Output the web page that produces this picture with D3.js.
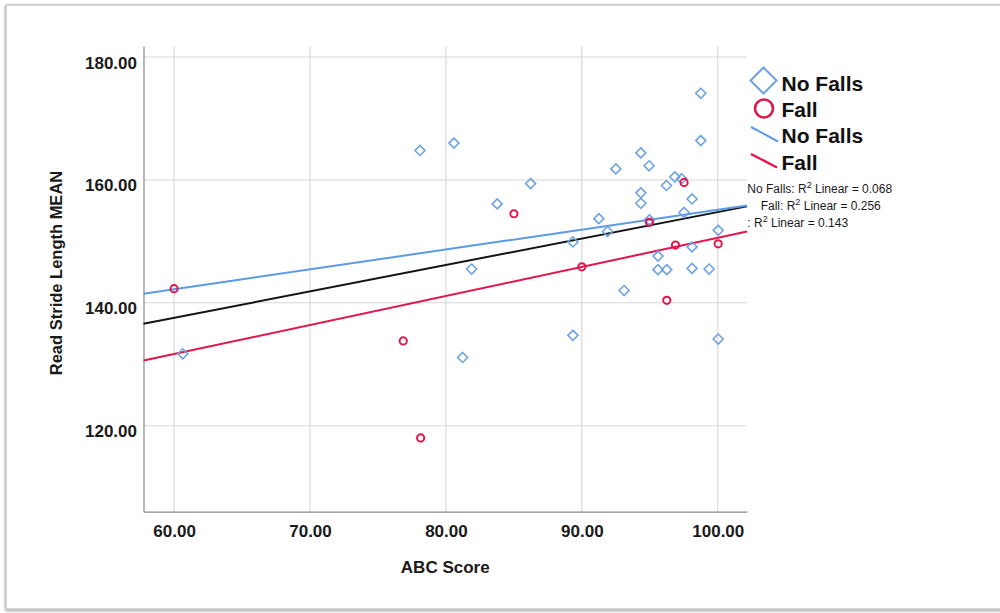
<!DOCTYPE html>
<html>
<head>
<meta charset="utf-8">
<script src="https://cdn.jsdelivr.net/npm/d3@7"></script>
<style>
  html, body { margin: 0; padding: 0; background: #ffffff; }
  svg { display: block; }
</style>
</head>
<body>
<svg id="chart" width="1000" height="613"></svg>
<script>
// ABC Score vs. Read Stride Length MEAN, grouped by fall status
const noFallsABC = [78.09, 80.59, 86.23, 83.77, 81.89, 89.34, 91.25, 91.89, 92.5, 94.34,
  94.95, 94.34, 94.34, 94.97, 96.23, 96.84, 97.35, 98.11, 97.52, 98.75,
  98.75, 100.03, 95.6, 95.6, 96.25, 98.11, 98.11, 99.36, 93.11, 89.34,
  81.23, 100.03, 60.64];
const noFallsStride = [164.8, 166.0, 159.4, 156.1, 145.5, 149.9, 153.7, 151.6, 161.8, 164.4,
  162.3, 157.9, 156.2, 153.5, 159.1, 160.5, 160.2, 156.9, 154.7, 174.1,
  166.4, 151.8, 147.6, 145.4, 145.4, 149.1, 145.6, 145.5, 142.0, 134.7,
  131.1, 134.1, 131.7];

const fallABC = [60.0, 76.86, 78.14, 85.0, 90.0, 94.97, 96.89, 97.52, 100.03, 96.25];
const fallStride = [142.3, 133.8, 118.0, 154.5, 145.85, 153.1, 149.4, 159.6, 149.6, 140.4];

// Linear fit lines: No Falls, Fall, Total
const fitGroups = ["No Falls", "Fall", "Total"];
const fitIntercept = [122.76, 103.28, 111.71];
const fitSlope = [0.324, 0.473, 0.4306];
const fitR2 = [0.068, 0.256, 0.143];

const xTicks = [60, 70, 80, 90, 100];
const yTicks = [120, 140, 160, 180];
const xDomain = [57.75, 102.15];
const yDomain = [106, 181.8];

const legendLabels = ["No Falls", "Fall", "No Falls", "Fall"];
const r2Prefixes = ["No Falls: ", "Fall: ", ": "];

const blueMark = "#6ea3e3";
const blueLine = "#5b9be6";
const redMark = "#e0174c";
const fitColors = [blueLine, "#e2164c", "#141414"];

const svg = d3.select("#chart");

// outer frame with a soft shadow
const defs = svg.append("defs");
const shadow = defs.append("filter").attr("id", "frameShadow")
  .attr("x", "-5%").attr("y", "-5%").attr("width", "110%").attr("height", "110%");
shadow.append("feGaussianBlur").attr("in", "SourceAlpha").attr("stdDeviation", 1.6).attr("result", "b");
shadow.append("feOffset").attr("in", "b").attr("dx", 0).attr("dy", 1.2).attr("result", "o");
shadow.append("feComponentTransfer").attr("in", "o").attr("result", "s")
  .append("feFuncA").attr("type", "linear").attr("slope", 0.45);
const merge = shadow.append("feMerge");
merge.append("feMergeNode").attr("in", "s");
merge.append("feMergeNode").attr("in", "SourceGraphic");

svg.append("rect")
  .attr("x", 6).attr("y", 5).attr("width", 1010).attr("height", 604)
  .attr("fill", "#ffffff").attr("stroke", "#c4c4c4").attr("stroke-width", 1.4)
  .attr("filter", "url(#frameShadow)");

const plot = { left: 143.5, right: 747, top: 46, bottom: 511.7 };

const x = d3.scaleLinear().domain(xDomain).range([plot.left, plot.right]);
const y = d3.scaleLinear().domain(yDomain).range([plot.bottom, plot.top]);

// gridlines
const grid = svg.append("g").attr("stroke", "#d6d6d6").attr("stroke-width", 1.1);
grid.selectAll("line.v").data(xTicks).join("line").attr("class", "v")
  .attr("x1", d => x(d)).attr("x2", d => x(d))
  .attr("y1", plot.top).attr("y2", plot.bottom);
grid.selectAll("line.h").data(yTicks).join("line").attr("class", "h")
  .attr("x1", plot.left).attr("x2", plot.right)
  .attr("y1", d => y(d)).attr("y2", d => y(d));

// axes
const fmt = d3.format(".2f");
const xAxis = svg.append("g").attr("transform", `translate(0,${plot.bottom})`)
  .call(d3.axisBottom(x).tickValues(xTicks).tickFormat(fmt).tickSize(0).tickSizeOuter(0));
xAxis.select(".domain").attr("stroke", "#8a8a8a").attr("stroke-width", 1.2);
xAxis.selectAll("text").attr("y", 25.6).attr("dy", 0)
  .attr("font-family", "Liberation Sans, Arial, sans-serif")
  .attr("font-size", 17).attr("font-weight", "bold").attr("fill", "#1a1a1a");

const yAxis = svg.append("g").attr("transform", `translate(${plot.left},0)`)
  .call(d3.axisLeft(y).tickValues(yTicks).tickFormat(fmt).tickSize(0).tickSizeOuter(0).tickPadding(6.5));
yAxis.select(".domain").attr("stroke", "#8a8a8a").attr("stroke-width", 1.2);
yAxis.selectAll("text").attr("dy", 11)
  .attr("font-family", "Liberation Sans, Arial, sans-serif")
  .attr("font-size", 17).attr("font-weight", "bold").attr("fill", "#1a1a1a");

// axis titles
svg.append("text")
  .attr("x", (plot.left + plot.right) / 2).attr("y", 572.7)
  .attr("text-anchor", "middle")
  .attr("font-family", "Liberation Sans, Arial, sans-serif")
  .attr("font-size", 17).attr("font-weight", "bold").attr("fill", "#1a1a1a")
  .text("ABC Score");

svg.append("text")
  .attr("transform", "translate(62,273) rotate(-90)")
  .attr("text-anchor", "middle")
  .attr("font-family", "Liberation Sans, Arial, sans-serif")
  .attr("font-size", 16.5).attr("font-weight", "bold").attr("fill", "#1a1a1a")
  .text("Read Stride Length MEAN");

// fit lines across the full x range
const fits = fitGroups.map((g, i) => ({ group: g, a: fitIntercept[i], b: fitSlope[i], color: fitColors[i] }));
const drawOrder = [2, 0, 1];
svg.append("g").selectAll("line").data(drawOrder.map(i => fits[i])).join("line")
  .attr("x1", x(xDomain[0])).attr("x2", x(xDomain[1]))
  .attr("y1", d => y(d.a + d.b * xDomain[0]))
  .attr("y2", d => y(d.a + d.b * xDomain[1]))
  .attr("stroke", d => d.color).attr("stroke-width", 2);

// markers
const diamond = (cx, cy, h) => `M${cx},${cy - h}L${cx + h},${cy}L${cx},${cy + h}L${cx - h},${cy}Z`;

svg.append("g").selectAll("path").data(noFallsABC.map((v, i) => [v, noFallsStride[i]])).join("path")
  .attr("d", d => diamond(x(d[0]), y(d[1]), 5))
  .attr("fill", "none").attr("stroke", blueMark).attr("stroke-width", 1.6);

svg.append("g").selectAll("circle").data(fallABC.map((v, i) => [v, fallStride[i]])).join("circle")
  .attr("cx", d => x(d[0])).attr("cy", d => y(d[1])).attr("r", 3.6)
  .attr("fill", "none").attr("stroke", redMark).attr("stroke-width", 2);

// legend
const legend = svg.append("g")
  .attr("font-family", "Liberation Sans, Arial, sans-serif")
  .attr("font-size", 21).attr("font-weight", "bold").attr("fill", "#111");

legend.append("path").attr("d", diamond(763.5, 80.5, 13))
  .attr("fill", "none").attr("stroke", blueMark).attr("stroke-width", 2);
legend.append("circle").attr("cx", 764).attr("cy", 108.5).attr("r", 9)
  .attr("fill", "none").attr("stroke", redMark).attr("stroke-width", 2.6);
legend.append("line").attr("x1", 751).attr("y1", 127).attr("x2", 778).attr("y2", 141.5)
  .attr("stroke", blueLine).attr("stroke-width", 2);
legend.append("line").attr("x1", 751).attr("y1", 154).attr("x2", 777).attr("y2", 167.5)
  .attr("stroke", fitColors[1]).attr("stroke-width", 2.4);

const legendBaselines = [91, 116.5, 143, 170];
legend.selectAll("text").data(legendLabels).join("text")
  .attr("x", 781.5).attr("y", (d, i) => legendBaselines[i])
  .text(d => d);

// R² annotations
const r2X = [747.3, 760.7, 747.3];
const r2Y = [193, 210, 226.7];
const r2 = svg.append("g")
  .attr("font-family", "Liberation Sans, Arial, sans-serif")
  .attr("font-size", 12).attr("fill", "#1a1a1a");
fitR2.forEach((v, i) => {
  const t = r2.append("text").attr("x", r2X[i]).attr("y", r2Y[i]);
  t.append("tspan").text(r2Prefixes[i] + "R");
  t.append("tspan").attr("dy", -5).attr("font-size", 9).text("2");
  t.append("tspan").attr("dy", 5).text(" Linear = " + d3.format(".3f")(v));
});
</script>
</body>
</html>
